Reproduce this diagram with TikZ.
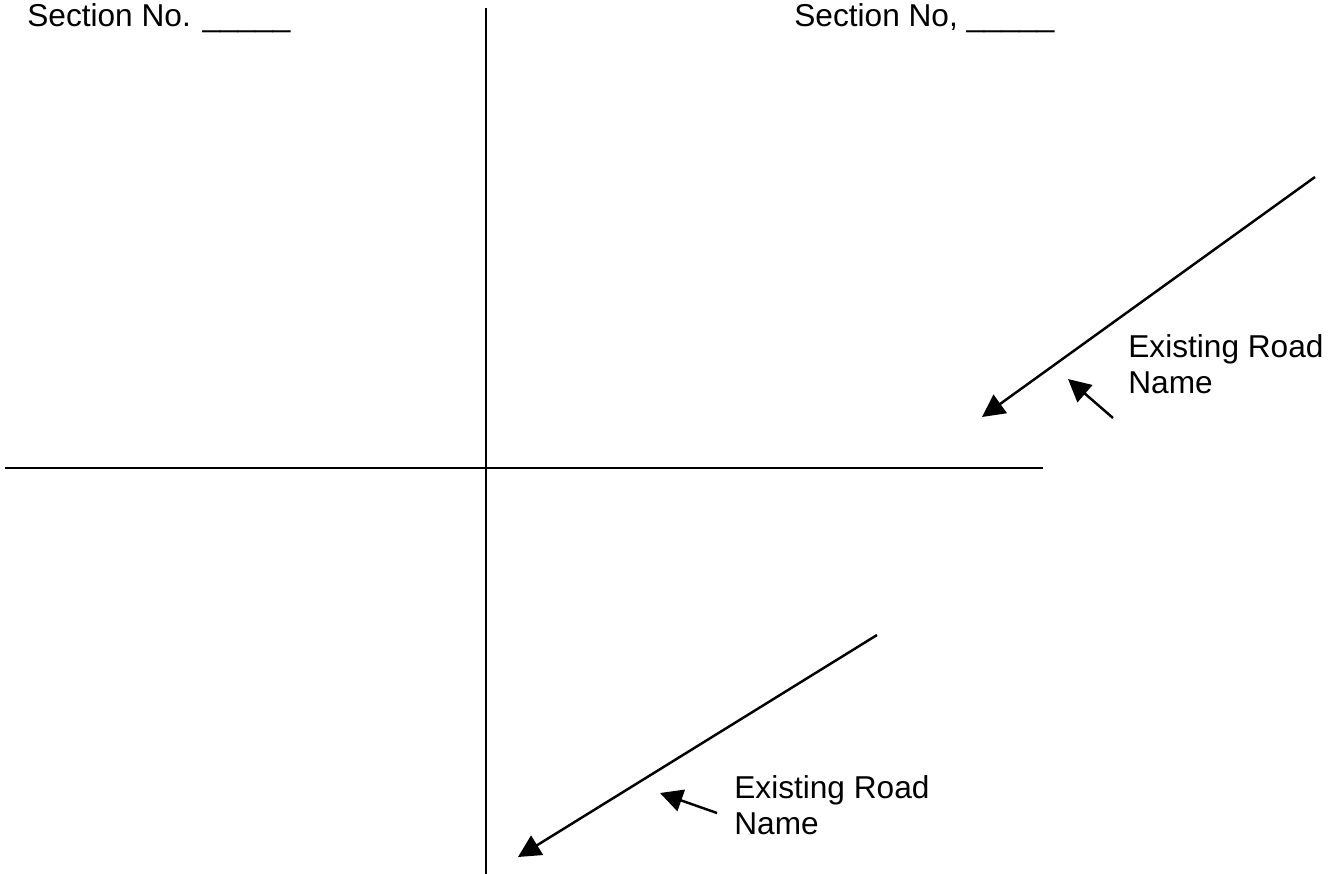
\documentclass[tikz,border=0pt]{standalone}
\usepackage{fontspec}
\setmainfont{Liberation Sans}
\usetikzlibrary{arrows.meta, positioning}

\begin{document}
\begin{tikzpicture}[
  x=0.02cm, y=-0.02cm,
  road/.style={line width=1.5pt},
  pointer/.style={line width=1.4pt, -{Triangle[length=0.45cm, width=0.45cm]}},
  roadtext/.style={inner sep=0pt, align=left, font=\fontsize{18}{20.5}\selectfont},
]
  \useasboundingbox (0,0) rectangle (1331,874);

  % section headings
  \node[roadtext, anchor=base west] (secleft)  at (27,27)  {Section No. \_\_\_\_\_};
  \node[roadtext, anchor=base west] (secright) at (794,27) {Section No, \_\_\_\_\_};

  % section lines
  \coordinate (vtop) at (486,8);
  \coordinate (vbot) at (486,874);
  \coordinate (hleft) at (5,468);
  \coordinate (hright) at (1043,468);
  \draw[road] (vtop) -- (vbot);
  \draw[road] (hleft) -- (hright);

  % existing roads
  \coordinate (roadAs) at (1315,177);
  \coordinate (roadAe) at (982,417);
  \coordinate (roadBs) at (877,635);
  \coordinate (roadBe) at (518,857);
  \draw[pointer] (roadAs) -- (roadAe);
  \draw[pointer] (roadBs) -- (roadBe);

  % road name labels
  \node[roadtext, anchor=north west] (nameA) at (1128,334.5) {Existing Road\\Name};
  \node[roadtext, anchor=north west] (nameB) at (734,775.5) {Existing Road\\Name};
  \coordinate (ptrAs) at (1113,418);
  \coordinate (ptrAe) at (1068,379);
  \coordinate (ptrBs) at (717,813);
  \coordinate (ptrBe) at (660,793);
  \draw[pointer] (ptrAs) -- (ptrAe);
  \draw[pointer] (ptrBs) -- (ptrBe);
\end{tikzpicture}
\end{document}
